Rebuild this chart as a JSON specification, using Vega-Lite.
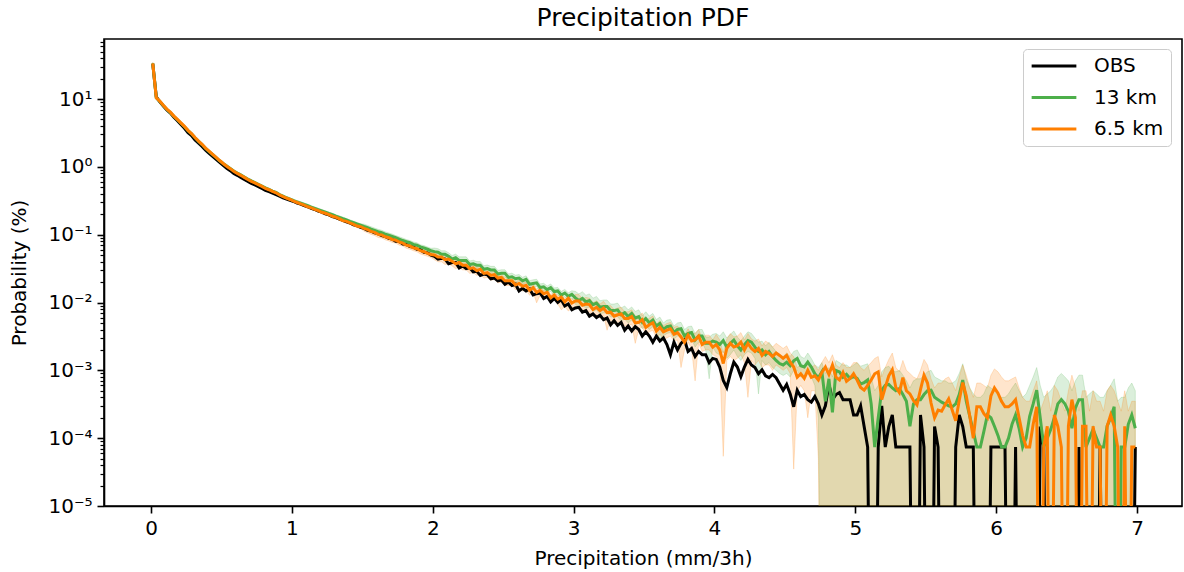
{
"$schema":"https://vega.github.io/schema/vega-lite/v6.json",
"width":1078,"height":467,
"autosize":{"type":"none"},
"padding":{"left":104,"top":39,"right":2,"bottom":66},
"background":"white",
"title":{"text":"Precipitation PDF","fontSize":25,"font":"DejaVu Sans","fontWeight":"normal","color":"black","offset":8},
"data":{"values":[
{"x":0.0125,"obs":33,"g":33.5,"gl":32.5,"gh":34.5,"o":33.5,"ol":32.5,"oh":34.5},
{"x":0.0375,"obs":10.8,"g":10.4,"gl":10.1,"gh":10.7,"o":10.4,"ol":10.1,"oh":10.7},
{"x":0.0625,"obs":9.1,"g":9.2,"gl":8.9,"gh":9.5,"o":9.3,"ol":9.0,"oh":9.6},
{"x":0.0875,"obs":7.9,"g":8.0,"gl":7.8,"gh":8.2,"o":8.1,"ol":7.9,"oh":8.3},
{"x":0.1125,"obs":6.9,"g":7.0,"gl":6.8,"gh":7.2,"o":7.1,"ol":6.9,"oh":7.3},
{"x":0.1375,"obs":6.2,"g":6.3,"gl":6.1,"gh":6.5,"o":6.4,"ol":6.2,"oh":6.6},
{"x":0.1625,"obs":5.4,"g":5.55,"gl":5.4,"gh":5.7,"o":5.6,"ol":5.45,"oh":5.75},
{"x":0.1875,"obs":4.8,"g":4.95,"gl":4.8,"gh":5.1,"o":5.0,"ol":4.85,"oh":5.15},
{"x":0.2125,"obs":4.2,"g":4.4,"gl":4.27,"gh":4.53,"o":4.45,"ol":4.32,"oh":4.58},
{"x":0.2375,"obs":3.7,"g":3.9,"gl":3.78,"gh":4.02,"o":3.95,"ol":3.83,"oh":4.07},
{"x":0.2625,"obs":3.2,"g":3.42,"gl":3.32,"gh":3.52,"o":3.45,"ol":3.35,"oh":3.55},
{"x":0.2875,"obs":2.9,"g":3.07,"gl":2.98,"gh":3.16,"o":3.1,"ol":3.0,"oh":3.2},
{"x":0.3125,"obs":2.5,"g":2.68,"gl":2.6,"gh":2.76,"o":2.7,"ol":2.62,"oh":2.78},
{"x":0.3375,"obs":2.24,"g":2.38,"gl":2.31,"gh":2.45,"o":2.4,"ol":2.33,"oh":2.47},
{"x":0.3625,"obs":2.0,"g":2.13,"gl":2.07,"gh":2.19,"o":2.15,"ol":2.09,"oh":2.21},
{"x":0.3875,"obs":1.76,"g":1.87,"gl":1.81,"gh":1.93,"o":1.89,"ol":1.83,"oh":1.95},
{"x":0.4125,"obs":1.58,"g":1.68,"gl":1.63,"gh":1.73,"o":1.70,"ol":1.65,"oh":1.75},
{"x":0.4375,"obs":1.43,"g":1.52,"gl":1.47,"gh":1.57,"o":1.53,"ol":1.48,"oh":1.58},
{"x":0.4625,"obs":1.29,"g":1.37,"gl":1.33,"gh":1.41,"o":1.38,"ol":1.34,"oh":1.42},
{"x":0.4875,"obs":1.16,"g":1.23,"gl":1.19,"gh":1.27,"o":1.24,"ol":1.2,"oh":1.28},
{"x":0.5125,"obs":1.05,"g":1.12,"gl":1.09,"gh":1.15,"o":1.12,"ol":1.09,"oh":1.15},
{"x":0.5375,"obs":0.95,"g":1.03,"gl":1.0,"gh":1.06,"o":1.02,"ol":0.99,"oh":1.05},
{"x":0.5625,"obs":0.88,"g":0.95,"gl":0.92,"gh":0.98,"o":0.94,"ol":0.91,"oh":0.97},
{"x":0.5875,"obs":0.80,"g":0.87,"gl":0.84,"gh":0.9,"o":0.86,"ol":0.83,"oh":0.89},
{"x":0.6125,"obs":0.75,"g":0.81,"gl":0.79,"gh":0.83,"o":0.80,"ol":0.78,"oh":0.82},
{"x":0.6375,"obs":0.70,"g":0.76,"gl":0.74,"gh":0.78,"o":0.75,"ol":0.73,"oh":0.77},
{"x":0.6625,"obs":0.65,"g":0.71,"gl":0.69,"gh":0.73,"o":0.70,"ol":0.68,"oh":0.72},
{"x":0.6875,"obs":0.61,"g":0.66,"gl":0.64,"gh":0.68,"o":0.65,"ol":0.63,"oh":0.67},
{"x":0.7125,"obs":0.57,"g":0.62,"gl":0.6,"gh":0.64,"o":0.61,"ol":0.59,"oh":0.63},
{"x":0.7375,"obs":0.54,"g":0.585,"gl":0.57,"gh":0.6,"o":0.58,"ol":0.565,"oh":0.595},
{"x":0.7625,"obs":0.51,"g":0.55,"gl":0.535,"gh":0.565,"o":0.545,"ol":0.53,"oh":0.56},
{"x":0.7875,"obs":0.48,"g":0.52,"gl":0.505,"gh":0.535,"o":0.515,"ol":0.5,"oh":0.53},
{"x":0.8125,"obs":0.45,"g":0.49,"gl":0.475,"gh":0.505,"o":0.48,"ol":0.465,"oh":0.495},
{"x":0.8375,"obs":0.43,"g":0.465,"gl":0.45,"gh":0.48,"o":0.46,"ol":0.445,"oh":0.475},
{"x":0.8625,"obs":0.41,"g":0.44,"gl":0.427,"gh":0.453,"o":0.435,"ol":0.422,"oh":0.448},
{"x":0.8875,"obs":0.39,"g":0.42,"gl":0.407,"gh":0.433,"o":0.415,"ol":0.402,"oh":0.428},
{"x":0.9125,"obs":0.37,"g":0.39,"gl":0.378,"gh":0.402,"o":0.385,"ol":0.373,"oh":0.397},
{"x":0.9375,"obs":0.35,"g":0.37,"gl":0.359,"gh":0.381,"o":0.365,"ol":0.354,"oh":0.376},
{"x":0.9625,"obs":0.335,"g":0.35,"gl":0.34,"gh":0.36,"o":0.345,"ol":0.335,"oh":0.355},
{"x":0.9875,"obs":0.32,"g":0.335,"gl":0.325,"gh":0.345,"o":0.33,"ol":0.32,"oh":0.34},
{"x":1.0125,"obs":0.309,"g":0.318,"gl":0.302,"gh":0.334,"o":0.312,"ol":0.296,"oh":0.328},
{"x":1.0375,"obs":0.293,"g":0.303,"gl":0.288,"gh":0.318,"o":0.298,"ol":0.283,"oh":0.313},
{"x":1.0625,"obs":0.283,"g":0.292,"gl":0.277,"gh":0.307,"o":0.284,"ol":0.270,"oh":0.298},
{"x":1.0875,"obs":0.268,"g":0.279,"gl":0.265,"gh":0.293,"o":0.272,"ol":0.258,"oh":0.286},
{"x":1.1125,"obs":0.258,"g":0.268,"gl":0.255,"gh":0.281,"o":0.258,"ol":0.245,"oh":0.271},
{"x":1.1375,"obs":0.244,"g":0.255,"gl":0.242,"gh":0.268,"o":0.249,"ol":0.237,"oh":0.261},
{"x":1.1625,"obs":0.235,"g":0.244,"gl":0.232,"gh":0.256,"o":0.236,"ol":0.224,"oh":0.248},
{"x":1.1875,"obs":0.222,"g":0.233,"gl":0.221,"gh":0.245,"o":0.226,"ol":0.215,"oh":0.237},
{"x":1.2125,"obs":0.215,"g":0.224,"gl":0.213,"gh":0.235,"o":0.214,"ol":0.203,"oh":0.225},
{"x":1.2375,"obs":0.203,"g":0.214,"gl":0.203,"gh":0.225,"o":0.207,"ol":0.197,"oh":0.217},
{"x":1.2625,"obs":0.196,"g":0.205,"gl":0.195,"gh":0.215,"o":0.197,"ol":0.187,"oh":0.207},
{"x":1.2875,"obs":0.185,"g":0.197,"gl":0.187,"gh":0.207,"o":0.187,"ol":0.178,"oh":0.196},
{"x":1.3125,"obs":0.179,"g":0.188,"gl":0.179,"gh":0.197,"o":0.181,"ol":0.172,"oh":0.190},
{"x":1.3375,"obs":0.169,"g":0.180,"gl":0.171,"gh":0.189,"o":0.171,"ol":0.162,"oh":0.180},
{"x":1.3625,"obs":0.163,"g":0.172,"gl":0.163,"gh":0.181,"o":0.161,"ol":0.153,"oh":0.169},
{"x":1.3875,"obs":0.154,"g":0.165,"gl":0.157,"gh":0.173,"o":0.157,"ol":0.149,"oh":0.165},
{"x":1.4125,"obs":0.149,"g":0.157,"gl":0.149,"gh":0.165,"o":0.149,"ol":0.142,"oh":0.156},
{"x":1.4375,"obs":0.140,"g":0.151,"gl":0.143,"gh":0.159,"o":0.142,"ol":0.135,"oh":0.149},
{"x":1.4625,"obs":0.136,"g":0.144,"gl":0.137,"gh":0.151,"o":0.134,"ol":0.127,"oh":0.141},
{"x":1.4875,"obs":0.128,"g":0.138,"gl":0.131,"gh":0.145,"o":0.131,"ol":0.124,"oh":0.138},
{"x":1.5125,"obs":0.124,"g":0.132,"gl":0.121,"gh":0.143,"o":0.124,"ol":0.112,"oh":0.134},
{"x":1.5375,"obs":0.116,"g":0.127,"gl":0.117,"gh":0.137,"o":0.119,"ol":0.107,"oh":0.129},
{"x":1.5625,"obs":0.113,"g":0.121,"gl":0.111,"gh":0.131,"o":0.112,"ol":0.101,"oh":0.121},
{"x":1.5875,"obs":0.106,"g":0.116,"gl":0.107,"gh":0.125,"o":0.108,"ol":0.097,"oh":0.117},
{"x":1.6125,"obs":0.103,"g":0.111,"gl":0.102,"gh":0.120,"o":0.101,"ol":0.091,"oh":0.109},
{"x":1.6375,"obs":0.097,"g":0.107,"gl":0.098,"gh":0.116,"o":0.099,"ol":0.089,"oh":0.107},
{"x":1.6625,"obs":0.094,"g":0.102,"gl":0.094,"gh":0.110,"o":0.093,"ol":0.084,"oh":0.100},
{"x":1.6875,"obs":0.088,"g":0.098,"gl":0.090,"gh":0.106,"o":0.090,"ol":0.081,"oh":0.097},
{"x":1.7125,"obs":0.086,"g":0.094,"gl":0.086,"gh":0.102,"o":0.085,"ol":0.077,"oh":0.092},
{"x":1.7375,"obs":0.080,"g":0.090,"gl":0.083,"gh":0.097,"o":0.083,"ol":0.075,"oh":0.090},
{"x":1.7625,"obs":0.079,"g":0.086,"gl":0.079,"gh":0.093,"o":0.078,"ol":0.070,"oh":0.084},
{"x":1.7875,"obs":0.073,"g":0.082,"gl":0.075,"gh":0.089,"o":0.075,"ol":0.068,"oh":0.081},
{"x":1.8125,"obs":0.072,"g":0.079,"gl":0.073,"gh":0.085,"o":0.070,"ol":0.063,"oh":0.076},
{"x":1.8375,"obs":0.067,"g":0.076,"gl":0.070,"gh":0.082,"o":0.068,"ol":0.061,"oh":0.073},
{"x":1.8625,"obs":0.066,"g":0.072,"gl":0.066,"gh":0.078,"o":0.064,"ol":0.058,"oh":0.069},
{"x":1.8875,"obs":0.061,"g":0.070,"gl":0.064,"gh":0.076,"o":0.062,"ol":0.056,"oh":0.067},
{"x":1.9125,"obs":0.060,"g":0.066,"gl":0.061,"gh":0.071,"o":0.058,"ol":0.052,"oh":0.063},
{"x":1.9375,"obs":0.055,"g":0.064,"gl":0.059,"gh":0.069,"o":0.056,"ol":0.050,"oh":0.060},
{"x":1.9625,"obs":0.054,"g":0.061,"gl":0.056,"gh":0.066,"o":0.053,"ol":0.048,"oh":0.057},
{"x":1.9875,"obs":0.050,"g":0.058,"gl":0.053,"gh":0.063,"o":0.051,"ol":0.046,"oh":0.055},
{"x":2.0125,"obs":0.0479,"g":0.0562,"gl":0.0495,"gh":0.0635,"o":0.0501,"ol":0.0426,"oh":0.0561},
{"x":2.0375,"obs":0.0437,"g":0.0550,"gl":0.0484,"gh":0.0622,"o":0.0468,"ol":0.0398,"oh":0.0524},
{"x":2.0625,"obs":0.0447,"g":0.0513,"gl":0.0451,"gh":0.058,"o":0.0468,"ol":0.0398,"oh":0.0524},
{"x":2.0875,"obs":0.0437,"g":0.0513,"gl":0.0451,"gh":0.058,"o":0.0427,"ol":0.0363,"oh":0.0478},
{"x":2.1125,"obs":0.0372,"g":0.0479,"gl":0.0422,"gh":0.0541,"o":0.0437,"ol":0.0371,"oh":0.0489},
{"x":2.1375,"obs":0.0389,"g":0.0437,"gl":0.0385,"gh":0.0494,"o":0.0407,"ol":0.0346,"oh":0.0456},
{"x":2.1625,"obs":0.0389,"g":0.0457,"gl":0.0402,"gh":0.0516,"o":0.0372,"ol":0.0316,"oh":0.0417},
{"x":2.1875,"obs":0.0324,"g":0.0417,"gl":0.0367,"gh":0.0471,"o":0.0389,"ol":0.0331,"oh":0.0436},
{"x":2.2125,"obs":0.0347,"g":0.0417,"gl":0.0367,"gh":0.0471,"o":0.0355,"ol":0.0302,"oh":0.0398},
{"x":2.2375,"obs":0.0316,"g":0.0417,"gl":0.0367,"gh":0.0471,"o":0.0355,"ol":0.0302,"oh":0.0398},
{"x":2.2625,"obs":0.0324,"g":0.0363,"gl":0.0319,"gh":0.041,"o":0.0316,"ol":0.0269,"oh":0.0354},
{"x":2.2875,"obs":0.0282,"g":0.0372,"gl":0.0327,"gh":0.042,"o":0.0324,"ol":0.0275,"oh":0.0363},
{"x":2.3125,"obs":0.0288,"g":0.0355,"gl":0.0312,"gh":0.0401,"o":0.0295,"ol":0.0251,"oh":0.033},
{"x":2.3375,"obs":0.0251,"g":0.0355,"gl":0.0312,"gh":0.0401,"o":0.0309,"ol":0.0263,"oh":0.0346},
{"x":2.3625,"obs":0.0263,"g":0.0309,"gl":0.0272,"gh":0.0349,"o":0.0269,"ol":0.0229,"oh":0.0301},
{"x":2.3875,"obs":0.0257,"g":0.0316,"gl":0.0278,"gh":0.0357,"o":0.0275,"ol":0.0234,"oh":0.0308},
{"x":2.4125,"obs":0.0224,"g":0.0302,"gl":0.0266,"gh":0.0341,"o":0.0251,"ol":0.0213,"oh":0.0281},
{"x":2.4375,"obs":0.0229,"g":0.0302,"gl":0.0266,"gh":0.0341,"o":0.0257,"ol":0.0218,"oh":0.0288},
{"x":2.4625,"obs":0.0209,"g":0.0263,"gl":0.0231,"gh":0.0297,"o":0.0229,"ol":0.0195,"oh":0.0256},
{"x":2.4875,"obs":0.0214,"g":0.0269,"gl":0.0237,"gh":0.0304,"o":0.0234,"ol":0.0199,"oh":0.0262},
{"x":2.5125,"obs":0.0186,"g":0.0269,"gl":0.0237,"gh":0.0304,"o":0.0209,"ol":0.0178,"oh":0.0234},
{"x":2.5375,"obs":0.0200,"g":0.0234,"gl":0.0206,"gh":0.0264,"o":0.0209,"ol":0.0178,"oh":0.0234},
{"x":2.5625,"obs":0.0178,"g":0.0240,"gl":0.0211,"gh":0.0271,"o":0.0209,"ol":0.0178,"oh":0.0234},
{"x":2.5875,"obs":0.0186,"g":0.0224,"gl":0.0197,"gh":0.0253,"o":0.0182,"ol":0.0155,"oh":0.0204},
{"x":2.6125,"obs":0.0148,"g":0.0229,"gl":0.0202,"gh":0.0259,"o":0.0191,"ol":0.0162,"oh":0.0214},
{"x":2.6375,"obs":0.0162,"g":0.0209,"gl":0.0184,"gh":0.0236,"o":0.0174,"ol":0.0148,"oh":0.0195},
{"x":2.6625,"obs":0.0148,"g":0.0219,"gl":0.0193,"gh":0.0247,"o":0.0178,"ol":0.0151,"oh":0.0199},
{"x":2.6875,"obs":0.0158,"g":0.0186,"gl":0.0164,"gh":0.021,"o":0.0151,"ol":0.0128,"oh":0.0169},
{"x":2.7125,"obs":0.0129,"g":0.0191,"gl":0.0168,"gh":0.0216,"o":0.0166,"ol":0.0141,"oh":0.0186},
{"x":2.7375,"obs":0.0135,"g":0.0195,"gl":0.0172,"gh":0.022,"o":0.0141,"ol":0.0099,"oh":0.0158},
{"x":2.7625,"obs":0.0138,"g":0.0166,"gl":0.0146,"gh":0.0188,"o":0.0151,"ol":0.0128,"oh":0.0169},
{"x":2.7875,"obs":0.0115,"g":0.0170,"gl":0.015,"gh":0.0192,"o":0.0135,"ol":0.0115,"oh":0.0151},
{"x":2.8125,"obs":0.0123,"g":0.0155,"gl":0.0136,"gh":0.0175,"o":0.0141,"ol":0.012,"oh":0.0158},
{"x":2.8375,"obs":0.0102,"g":0.0166,"gl":0.0146,"gh":0.0188,"o":0.0117,"ol":0.0099,"oh":0.0131},
{"x":2.8625,"obs":0.0115,"g":0.0145,"gl":0.0128,"gh":0.0164,"o":0.0129,"ol":0.011,"oh":0.0144},
{"x":2.8875,"obs":0.0100,"g":0.0148,"gl":0.013,"gh":0.0167,"o":0.0112,"ol":0.0095,"oh":0.0125},
{"x":2.9125,"obs":0.0110,"g":0.0129,"gl":0.0114,"gh":0.0146,"o":0.0120,"ol":0.0078,"oh":0.0134},
{"x":2.9375,"obs":0.0089,"g":0.0138,"gl":0.0121,"gh":0.0156,"o":0.0102,"ol":0.0087,"oh":0.0114},
{"x":2.9625,"obs":0.0095,"g":0.0123,"gl":0.0108,"gh":0.0139,"o":0.0115,"ol":0.0075,"oh":0.0129},
{"x":2.9875,"obs":0.0078,"g":0.0132,"gl":0.0116,"gh":0.0149,"o":0.0098,"ol":0.0083,"oh":0.011},
{"x":3.0125,"obs":0.0083,"g":0.0117,"gl":0.0094,"gh":0.0146,"o":0.0105,"ol":0.0082,"oh":0.0131},
{"x":3.0375,"obs":0.0085,"g":0.0107,"gl":0.0086,"gh":0.0134,"o":0.0105,"ol":0.0082,"oh":0.0131},
{"x":3.0625,"obs":0.0072,"g":0.0115,"gl":0.0092,"gh":0.0144,"o":0.0091,"ol":0.0071,"oh":0.0114},
{"x":3.0875,"obs":0.0076,"g":0.0102,"gl":0.0082,"gh":0.0128,"o":0.0095,"ol":0.0074,"oh":0.0119},
{"x":3.1125,"obs":0.0063,"g":0.0107,"gl":0.0086,"gh":0.0134,"o":0.0093,"ol":0.0073,"oh":0.0116},
{"x":3.1375,"obs":0.0068,"g":0.0093,"gl":0.0074,"gh":0.0116,"o":0.0079,"ol":0.0062,"oh":0.0099},
{"x":3.1625,"obs":0.0060,"g":0.0098,"gl":0.0078,"gh":0.0123,"o":0.0085,"ol":0.0066,"oh":0.0106},
{"x":3.1875,"obs":0.0065,"g":0.0085,"gl":0.0068,"gh":0.0106,"o":0.0076,"ol":0.0059,"oh":0.0095},
{"x":3.2125,"obs":0.0056,"g":0.0087,"gl":0.007,"gh":0.0109,"o":0.0083,"ol":0.0065,"oh":0.0104},
{"x":3.2375,"obs":0.0059,"g":0.0087,"gl":0.007,"gh":0.0109,"o":0.0071,"ol":0.0039,"oh":0.0089},
{"x":3.2625,"obs":0.0047,"g":0.0076,"gl":0.0061,"gh":0.0095,"o":0.0072,"ol":0.0056,"oh":0.009},
{"x":3.2875,"obs":0.0054,"g":0.0076,"gl":0.0061,"gh":0.0095,"o":0.0063,"ol":0.0049,"oh":0.0079},
{"x":3.3125,"obs":0.0046,"g":0.0078,"gl":0.0062,"gh":0.0098,"o":0.0066,"ol":0.0051,"oh":0.0083},
{"x":3.3375,"obs":0.0051,"g":0.0066,"gl":0.0053,"gh":0.0083,"o":0.0068,"ol":0.0053,"oh":0.0085},
{"x":3.3625,"obs":0.0039,"g":0.0071,"gl":0.0057,"gh":0.0089,"o":0.0058,"ol":0.0045,"oh":0.0073},
{"x":3.3875,"obs":0.0045,"g":0.0062,"gl":0.005,"gh":0.0078,"o":0.0058,"ol":0.0045,"oh":0.0073},
{"x":3.4125,"obs":0.0038,"g":0.0069,"gl":0.0055,"gh":0.0086,"o":0.0062,"ol":0.0048,"oh":0.0078},
{"x":3.4375,"obs":0.0044,"g":0.0059,"gl":0.0047,"gh":0.0074,"o":0.0050,"ol":0.0025,"oh":0.0063},
{"x":3.4625,"obs":0.0040,"g":0.0062,"gl":0.005,"gh":0.0078,"o":0.0051,"ol":0.004,"oh":0.0064},
{"x":3.4875,"obs":0.0032,"g":0.0051,"gl":0.0041,"gh":0.0064,"o":0.0056,"ol":0.0044,"oh":0.007},
{"x":3.5125,"obs":0.0037,"g":0.0058,"gl":0.0046,"gh":0.0073,"o":0.0043,"ol":0.0034,"oh":0.0054},
{"x":3.5375,"obs":0.0032,"g":0.0050,"gl":0.004,"gh":0.0063,"o":0.0047,"ol":0.0037,"oh":0.0059},
{"x":3.5625,"obs":0.0026,"g":0.0055,"gl":0.0044,"gh":0.0069,"o":0.0050,"ol":0.0039,"oh":0.0063},
{"x":3.5875,"obs":0.0032,"g":0.0045,"gl":0.0036,"gh":0.0056,"o":0.0038,"ol":0.003,"oh":0.0048},
{"x":3.6125,"obs":0.0027,"g":0.0049,"gl":0.0029,"gh":0.0061,"o":0.0043,"ol":0.0034,"oh":0.0054},
{"x":3.6375,"obs":0.0030,"g":0.0040,"gl":0.0032,"gh":0.005,"o":0.0037,"ol":0.0029,"oh":0.0046},
{"x":3.6625,"obs":0.0024,"g":0.0044,"gl":0.0035,"gh":0.0055,"o":0.0039,"ol":0.003,"oh":0.0049},
{"x":3.6875,"obs":0.0017,"g":0.0045,"gl":0.0036,"gh":0.0056,"o":0.0041,"ol":0.0032,"oh":0.0051},
{"x":3.7125,"obs":0.0026,"g":0.0036,"gl":0.0029,"gh":0.0045,"o":0.0034,"ol":0.0027,"oh":0.0043},
{"x":3.7375,"obs":0.0020,"g":0.0040,"gl":0.0032,"gh":0.005,"o":0.0036,"ol":0.0028,"oh":0.0045},
{"x":3.7625,"obs":0.0025,"g":0.0041,"gl":0.0033,"gh":0.0051,"o":0.0031,"ol":0.0011,"oh":0.0039},
{"x":3.7875,"obs":0.0028,"g":0.0032,"gl":0.0026,"gh":0.004,"o":0.0026,"ol":0.002,"oh":0.0033},
{"x":3.8125,"obs":0.0019,"g":0.0035,"gl":0.0028,"gh":0.0044,"o":0.0033,"ol":0.0026,"oh":0.0041},
{"x":3.8375,"obs":0.0021,"g":0.0036,"gl":0.0029,"gh":0.0045,"o":0.0027,"ol":0.0021,"oh":0.0034},
{"x":3.8625,"obs":0.0016,"g":0.0028,"gl":0.0022,"gh":0.0035,"o":0.0028,"ol":0.0007,"oh":0.0035},
{"x":3.8875,"obs":0.0019,"g":0.0032,"gl":0.0026,"gh":0.004,"o":0.0032,"ol":0.0025,"oh":0.004},
{"x":3.9125,"obs":0.0017,"g":0.0032,"gl":0.0026,"gh":0.004,"o":0.0024,"ol":0.0019,"oh":0.003},
{"x":3.9375,"obs":0.0017,"g":0.0025,"gl":0.002,"gh":0.0031,"o":0.0026,"ol":0.002,"oh":0.0033},
{"x":3.9625,"obs":0.0013,"g":0.0025,"gl":0.00075,"gh":0.0031,"o":0.0026,"ol":0.002,"oh":0.0033},
{"x":3.9875,"obs":0.0015,"g":0.0027,"gl":0.0022,"gh":0.0034,"o":0.0022,"ol":0.0017,"oh":0.0028},
{"x":4.0125,"obs":0.00145,"g":0.0026,"gl":0.0018,"gh":0.0035,"o":0.0024,"ol":0.0016,"oh":0.0034},
{"x":4.0375,"obs":0.00112,"g":0.0024,"gl":0.0017,"gh":0.0032,"o":0.0020,"ol":0.0013,"oh":0.0028},
{"x":4.0625,"obs":0.00071,"g":0.00275,"gl":0.0019,"gh":0.0037,"o":0.00126,"ol":0.000054,"oh":0.0018},
{"x":4.0875,"obs":0.00056,"g":0.0022,"gl":0.0015,"gh":0.003,"o":0.0021,"ol":0.0014,"oh":0.0029},
{"x":4.1125,"obs":0.00089,"g":0.0025,"gl":0.0017,"gh":0.0034,"o":0.0025,"ol":0.0016,"oh":0.0035},
{"x":4.1375,"obs":0.00132,"g":0.0028,"gl":0.002,"gh":0.0038,"o":0.0022,"ol":0.0014,"oh":0.0031},
{"x":4.1625,"obs":0.00112,"g":0.0023,"gl":0.0016,"gh":0.0031,"o":0.0023,"ol":0.0015,"oh":0.0032},
{"x":4.1875,"obs":0.00081,"g":0.0020,"gl":0.0014,"gh":0.0027,"o":0.0026,"ol":0.0017,"oh":0.0036},
{"x":4.2125,"obs":0.00112,"g":0.0024,"gl":0.0017,"gh":0.0032,"o":0.0020,"ol":0.0013,"oh":0.0028},
{"x":4.2375,"obs":0.00145,"g":0.00275,"gl":0.0019,"gh":0.0037,"o":0.0025,"ol":0.0004,"oh":0.0035},
{"x":4.2625,"obs":0.0012,"g":0.0026,"gl":0.0018,"gh":0.0035,"o":0.0021,"ol":0.0014,"oh":0.0029},
{"x":4.2875,"obs":0.0011,"g":0.0022,"gl":0.0015,"gh":0.003,"o":0.0019,"ol":0.0012,"oh":0.0027},
{"x":4.3125,"obs":0.00089,"g":0.0019,"gl":0.00045,"gh":0.0026,"o":0.0021,"ol":0.0014,"oh":0.0029},
{"x":4.3375,"obs":0.00102,"g":0.0020,"gl":0.0014,"gh":0.0027,"o":0.00166,"ol":0.0011,"oh":0.0023},
{"x":4.3625,"obs":0.00083,"g":0.0017,"gl":0.0012,"gh":0.0023,"o":0.0019,"ol":0.0012,"oh":0.0027},
{"x":4.3875,"obs":0.00078,"g":0.0019,"gl":0.0013,"gh":0.0026,"o":0.00178,"ol":0.0012,"oh":0.0025},
{"x":4.4125,"obs":0.00087,"g":0.0016,"gl":0.0011,"gh":0.0022,"o":0.0016,"ol":0.001,"oh":0.0022},
{"x":4.4375,"obs":0.00078,"g":0.0014,"gl":0.001,"gh":0.0019,"o":0.0018,"ol":0.0012,"oh":0.0025},
{"x":4.4625,"obs":0.00063,"g":0.00126,"gl":0.0009,"gh":0.0017,"o":0.00166,"ol":0.0011,"oh":0.0023},
{"x":4.4875,"obs":0.00051,"g":0.0012,"gl":0.00084,"gh":0.0016,"o":0.0015,"ol":0.001,"oh":0.0021},
{"x":4.5125,"obs":0.00062,"g":0.00132,"gl":0.0009,"gh":0.0018,"o":0.00166,"ol":0.0011,"oh":0.0023},
{"x":4.5375,"obs":0.00045,"g":0.00117,"gl":0.0008,"gh":0.0016,"o":0.00132,"ol":0.0009,"oh":0.0018},
{"x":4.5625,"obs":0.00029,"g":0.00138,"gl":0.001,"gh":0.0019,"o":0.00112,"ol":0.000035,"oh":0.0016},
{"x":4.5875,"obs":0.00051,"g":0.0015,"gl":0.001,"gh":0.002,"o":0.00079,"ol":0.0005,"oh":0.0011},
{"x":4.6125,"obs":0.00041,"g":0.00117,"gl":0.0008,"gh":0.0016,"o":0.00089,"ol":0.0006,"oh":0.0012},
{"x":4.6375,"obs":0.00044,"g":0.00112,"gl":0.0008,"gh":0.0015,"o":0.00076,"ol":0.0005,"oh":0.0011},
{"x":4.6625,"obs":0.00037,"g":0.00132,"gl":0.0009,"gh":0.0018,"o":0.001,"ol":0.0002,"oh":0.0014},
{"x":4.6875,"obs":0.00034,"g":0.00112,"gl":0.0008,"gh":0.0015,"o":0.00079,"ol":0.0005,"oh":0.0011},
{"x":4.7125,"obs":0.00041,"g":0.00089,"gl":0.0006,"gh":0.0012,"o":0.00083,"ol":0.0005,"oh":0.0012},
{"x":4.7375,"obs":0.00032,"g":0.00078,"gl":0.0002,"gh":0.0011,"o":0.00072,"ol":0.00005,"oh":0.001},
{"x":4.7625,"obs":0.00022,"g":0.00095,"gl":1e-9,"gh":0.0013,"o":0.00093,"ol":1e-9,"oh":0.0013},
{"x":4.7875,"obs":0.0003,"g":0.00035,"gl":1e-9,"gh":0.0009,"o":0.00112,"ol":1e-9,"oh":0.0016},
{"x":4.8125,"obs":0.00062,"g":0.00075,"gl":1e-9,"gh":0.0011,"o":0.00087,"ol":1e-9,"oh":0.0013},
{"x":4.8375,"obs":0.00037,"g":0.00024,"gl":1e-9,"gh":0.0008,"o":0.0012,"ol":1e-9,"oh":0.0017},
{"x":4.8625,"obs":0.00044,"g":0.001,"gl":1e-9,"gh":0.0014,"o":0.00079,"ol":1e-9,"oh":0.0012},
{"x":4.8875,"obs":0.00047,"g":0.00095,"gl":1e-9,"gh":0.0013,"o":0.00072,"ol":1e-9,"oh":0.0011},
{"x":4.9125,"obs":0.00037,"g":0.00079,"gl":1e-9,"gh":0.0012,"o":0.00093,"ol":1e-9,"oh":0.0013},
{"x":4.9375,"obs":0.00037,"g":0.00087,"gl":1e-9,"gh":0.0012,"o":0.00069,"ol":1e-9,"oh":0.0011},
{"x":4.9625,"obs":0.00037,"g":0.00076,"gl":1e-9,"gh":0.0011,"o":0.00076,"ol":1e-9,"oh":0.0011},
{"x":4.9875,"obs":0.00022,"g":0.00081,"gl":1e-9,"gh":0.0012,"o":0.00089,"ol":1e-9,"oh":0.0013},
{"x":5.0125,"obs":2.2e-4,"g":7.6e-4,"gl":1e-9,"gh":1.3e-3,"o":7.2e-4,"ol":1e-9,"oh":1.3e-3},
{"x":5.0375,"obs":3.0e-4,"g":6.3e-4,"gl":1e-9,"gh":1.15e-3,"o":5.6e-4,"ol":1e-9,"oh":1.1e-3},
{"x":5.0625,"obs":1.48e-4,"g":6.6e-4,"gl":1e-9,"gh":1.2e-3,"o":5.1e-4,"ol":1e-9,"oh":1.0e-3},
{"x":5.0875,"obs":7.4e-5,"g":7.2e-4,"gl":1e-9,"gh":1.25e-3,"o":6.0e-4,"ol":1e-9,"oh":1.15e-3},
{"x":5.1125,"obs":1e-9,"g":3.2e-4,"gl":1e-9,"gh":8e-4,"o":7.2e-4,"ol":1e-9,"oh":1.3e-3},
{"x":5.1375,"obs":1e-9,"g":7.4e-5,"gl":1e-9,"gh":5e-4,"o":8.9e-4,"ol":1e-9,"oh":1.5e-3},
{"x":5.1625,"obs":7.4e-5,"g":2.0e-4,"gl":1e-9,"gh":6e-4,"o":9.5e-4,"ol":1e-9,"oh":1.6e-3},
{"x":5.1875,"obs":3.0e-4,"g":5.1e-4,"gl":1e-9,"gh":9.5e-4,"o":3.7e-4,"ol":1e-9,"oh":8e-4},
{"x":5.2125,"obs":7.4e-5,"g":6.0e-4,"gl":1e-9,"gh":1.1e-3,"o":5.6e-4,"ol":1e-9,"oh":1.1e-3},
{"x":5.2375,"obs":1.48e-4,"g":6.2e-4,"gl":1e-9,"gh":1.15e-3,"o":8.3e-4,"ol":1e-9,"oh":1.45e-3},
{"x":5.2625,"obs":2.2e-4,"g":5.5e-4,"gl":1e-9,"gh":1.0e-3,"o":1.02e-3,"ol":1e-9,"oh":1.8e-3},
{"x":5.2875,"obs":7.4e-5,"g":5.0e-4,"gl":1e-9,"gh":9.5e-4,"o":5.6e-4,"ol":1e-9,"oh":1.1e-3},
{"x":5.3125,"obs":7.4e-5,"g":5.4e-4,"gl":1e-9,"gh":1.0e-3,"o":4.7e-4,"ol":1e-9,"oh":9.5e-4},
{"x":5.3375,"obs":7.4e-5,"g":4.4e-4,"gl":1e-9,"gh":8.5e-4,"o":7.8e-4,"ol":1e-9,"oh":1.4e-3},
{"x":5.3625,"obs":7.4e-5,"g":3.5e-4,"gl":1e-9,"gh":7e-4,"o":5.0e-4,"ol":1e-9,"oh":1.0e-3},
{"x":5.3875,"obs":7.4e-5,"g":1.5e-4,"gl":1e-9,"gh":5.5e-4,"o":4.5e-4,"ol":1e-9,"oh":9e-4},
{"x":5.4125,"obs":1e-9,"g":3.2e-4,"gl":1e-9,"gh":7e-4,"o":3.6e-4,"ol":1e-9,"oh":8e-4},
{"x":5.4375,"obs":1e-9,"g":3.7e-4,"gl":1e-9,"gh":7.5e-4,"o":3.1e-4,"ol":1e-9,"oh":7.5e-4},
{"x":5.4625,"obs":2.2e-4,"g":3.7e-4,"gl":1e-9,"gh":7.5e-4,"o":5.2e-4,"ol":1e-9,"oh":1.0e-3},
{"x":5.4875,"obs":7.4e-5,"g":4.4e-4,"gl":1e-9,"gh":8.5e-4,"o":8.5e-4,"ol":1e-9,"oh":1.45e-3},
{"x":5.5125,"obs":1e-9,"g":5.0e-4,"gl":1e-9,"gh":9.5e-4,"o":6.5e-4,"ol":1e-9,"oh":1.2e-3},
{"x":5.5375,"obs":1e-9,"g":5.1e-4,"gl":1e-9,"gh":1.0e-3,"o":3.3e-4,"ol":1e-9,"oh":7.5e-4},
{"x":5.5625,"obs":1.48e-4,"g":4.0e-4,"gl":1e-9,"gh":8e-4,"o":2.0e-4,"ol":1e-9,"oh":5.5e-4},
{"x":5.5875,"obs":7.4e-5,"g":3.7e-4,"gl":1e-9,"gh":7.5e-4,"o":2.6e-4,"ol":1e-9,"oh":6.5e-4},
{"x":5.6125,"obs":1e-9,"g":3.4e-4,"gl":1e-9,"gh":7e-4,"o":2.5e-4,"ol":1e-9,"oh":6.5e-4},
{"x":5.6375,"obs":1e-9,"g":3.2e-4,"gl":1e-9,"gh":7e-4,"o":3.1e-4,"ol":1e-9,"oh":7.5e-4},
{"x":5.6625,"obs":1e-9,"g":3.0e-4,"gl":1e-9,"gh":6.5e-4,"o":3.8e-4,"ol":1e-9,"oh":8e-4},
{"x":5.6875,"obs":1e-9,"g":2.9e-4,"gl":1e-9,"gh":6.5e-4,"o":2.6e-4,"ol":1e-9,"oh":6.5e-4},
{"x":5.7125,"obs":7.4e-5,"g":3.2e-4,"gl":1e-9,"gh":7e-4,"o":1.8e-4,"ol":1e-9,"oh":5e-4},
{"x":5.7375,"obs":2.2e-4,"g":4.4e-4,"gl":1e-9,"gh":9e-4,"o":3.6e-4,"ol":1e-9,"oh":8e-4},
{"x":5.7625,"obs":1.48e-4,"g":7.2e-4,"gl":1e-9,"gh":1.25e-3,"o":6.6e-4,"ol":1e-9,"oh":1.2e-3},
{"x":5.7875,"obs":7.4e-5,"g":3.5e-4,"gl":1e-9,"gh":7.5e-4,"o":4.2e-4,"ol":1e-9,"oh":8.5e-4},
{"x":5.8125,"obs":7.4e-5,"g":2.1e-4,"gl":1e-9,"gh":5.5e-4,"o":2.1e-4,"ol":1e-9,"oh":5.5e-4},
{"x":5.8375,"obs":7.4e-5,"g":1.26e-4,"gl":1e-9,"gh":4.5e-4,"o":1.0e-4,"ol":1e-9,"oh":4e-4},
{"x":5.8625,"obs":1e-9,"g":7.4e-5,"gl":1e-9,"gh":4e-4,"o":2.9e-4,"ol":1e-9,"oh":6.5e-4},
{"x":5.8875,"obs":1e-9,"g":7.4e-5,"gl":1e-9,"gh":4e-4,"o":2.9e-4,"ol":1e-9,"oh":6.5e-4},
{"x":5.9125,"obs":1e-9,"g":1.26e-4,"gl":1e-9,"gh":4.5e-4,"o":2.3e-4,"ol":1e-9,"oh":6e-4},
{"x":5.9375,"obs":1e-9,"g":2.2e-4,"gl":1e-9,"gh":6e-4,"o":2.0e-4,"ol":1e-9,"oh":5.5e-4},
{"x":5.9625,"obs":7.4e-5,"g":2.0e-4,"gl":1e-9,"gh":5.5e-4,"o":4.2e-4,"ol":1e-9,"oh":8.5e-4},
{"x":5.9875,"obs":7.4e-5,"g":1.5e-4,"gl":1e-9,"gh":5e-4,"o":5.5e-4,"ol":1e-9,"oh":1.05e-3},
{"x":6.0125,"obs":7.4e-5,"g":1.1e-4,"gl":1e-9,"gh":4.5e-4,"o":4.6e-4,"ol":1e-9,"oh":9.5e-4},
{"x":6.0375,"obs":7.4e-5,"g":7.4e-5,"gl":1e-9,"gh":4e-4,"o":3.5e-4,"ol":1e-9,"oh":8e-4},
{"x":6.0625,"obs":7.4e-5,"g":7.4e-5,"gl":1e-9,"gh":4e-4,"o":2.9e-4,"ol":1e-9,"oh":7e-4},
{"x":6.0875,"obs":1e-9,"g":1.0e-4,"gl":1e-9,"gh":4.5e-4,"o":2.9e-4,"ol":1e-9,"oh":7e-4},
{"x":6.1125,"obs":1e-9,"g":1.6e-4,"gl":1e-9,"gh":5.5e-4,"o":3.2e-4,"ol":1e-9,"oh":7.5e-4},
{"x":6.1375,"obs":7.4e-5,"g":2.2e-4,"gl":1e-9,"gh":6.5e-4,"o":3.7e-4,"ol":1e-9,"oh":8e-4},
{"x":6.1625,"obs":1e-9,"g":1.4e-4,"gl":1e-9,"gh":5e-4,"o":2.0e-4,"ol":1e-9,"oh":5.5e-4},
{"x":6.1875,"obs":1e-9,"g":7.4e-5,"gl":1e-9,"gh":4e-4,"o":1.1e-4,"ol":1e-9,"oh":4e-4},
{"x":6.2125,"obs":1e-9,"g":1.0e-4,"gl":1e-9,"gh":4.5e-4,"o":7.4e-5,"ol":1e-9,"oh":3.5e-4},
{"x":6.2375,"obs":1e-9,"g":2.1e-4,"gl":1e-9,"gh":6e-4,"o":7.4e-5,"ol":1e-9,"oh":3.5e-4},
{"x":6.2625,"obs":1e-9,"g":3.2e-4,"gl":1e-9,"gh":8e-4,"o":1.6e-4,"ol":1e-9,"oh":5e-4},
{"x":6.2875,"obs":1e-9,"g":5.1e-4,"gl":1e-9,"gh":1.1e-3,"o":2.9e-4,"ol":1e-9,"oh":7e-4},
{"x":6.3125,"obs":1.48e-4,"g":2.0e-4,"gl":1e-9,"gh":6e-4,"o":1e-9,"ol":1e-9,"oh":2.5e-4},
{"x":6.3375,"obs":7.4e-5,"g":7.4e-5,"gl":1e-9,"gh":4e-4,"o":7.4e-5,"ol":1e-9,"oh":3.5e-4},
{"x":6.3625,"obs":1e-9,"g":1.0e-4,"gl":1e-9,"gh":4.5e-4,"o":1.5e-4,"ol":1e-9,"oh":5e-4},
{"x":6.3875,"obs":1e-9,"g":1.35e-4,"gl":1e-9,"gh":5e-4,"o":1e-9,"ol":1e-9,"oh":2.5e-4},
{"x":6.4125,"obs":1e-9,"g":2.0e-4,"gl":1e-9,"gh":6e-4,"o":2.2e-4,"ol":1e-9,"oh":6e-4},
{"x":6.4375,"obs":1e-9,"g":3.2e-4,"gl":1e-9,"gh":8e-4,"o":1.5e-4,"ol":1e-9,"oh":5e-4},
{"x":6.4625,"obs":1e-9,"g":3.7e-4,"gl":1e-9,"gh":9e-4,"o":7.4e-5,"ol":1e-9,"oh":3.5e-4},
{"x":6.4875,"obs":1e-9,"g":3.2e-4,"gl":1e-9,"gh":8e-4,"o":1e-9,"ol":1e-9,"oh":2.5e-4},
{"x":6.5125,"obs":1e-9,"g":2.5e-4,"gl":1e-9,"gh":7e-4,"o":1.5e-4,"ol":1e-9,"oh":5e-4},
{"x":6.5375,"obs":1e-9,"g":1.4e-4,"gl":1e-9,"gh":5e-4,"o":3.7e-4,"ol":1e-9,"oh":8.5e-4},
{"x":6.5625,"obs":1e-9,"g":2.8e-4,"gl":1e-9,"gh":7e-4,"o":2.0e-4,"ol":1e-9,"oh":5.5e-4},
{"x":6.5875,"obs":7.4e-5,"g":3.7e-4,"gl":1e-9,"gh":8.5e-4,"o":1e-9,"ol":1e-9,"oh":2.5e-4},
{"x":6.6125,"obs":1e-9,"g":3.7e-4,"gl":1e-9,"gh":8.5e-4,"o":1.5e-4,"ol":1e-9,"oh":5e-4},
{"x":6.6375,"obs":1e-9,"g":7.4e-5,"gl":1e-9,"gh":4e-4,"o":1.5e-4,"ol":1e-9,"oh":5e-4},
{"x":6.6625,"obs":1e-9,"g":1.0e-4,"gl":1e-9,"gh":4.5e-4,"o":1e-9,"ol":1e-9,"oh":2.5e-4},
{"x":6.6875,"obs":1e-9,"g":1.35e-4,"gl":1e-9,"gh":5e-4,"o":1.5e-4,"ol":1e-9,"oh":5e-4},
{"x":6.7125,"obs":1e-9,"g":1.0e-4,"gl":1e-9,"gh":4.5e-4,"o":7.4e-5,"ol":1e-9,"oh":3.5e-4},
{"x":6.7375,"obs":7.4e-5,"g":7.4e-5,"gl":1e-9,"gh":4e-4,"o":7.4e-5,"ol":1e-9,"oh":3.5e-4},
{"x":6.7625,"obs":1e-9,"g":7.4e-5,"gl":1e-9,"gh":4e-4,"o":1e-9,"ol":1e-9,"oh":2.5e-4},
{"x":6.7875,"obs":1e-9,"g":1.5e-4,"gl":1e-9,"gh":5e-4,"o":1.5e-4,"ol":1e-9,"oh":5e-4},
{"x":6.8125,"obs":1e-9,"g":2.0e-4,"gl":1e-9,"gh":6e-4,"o":2.2e-4,"ol":1e-9,"oh":6e-4},
{"x":6.8375,"obs":1e-9,"g":2.9e-4,"gl":1e-9,"gh":7.5e-4,"o":1.5e-4,"ol":1e-9,"oh":5e-4},
{"x":6.8625,"obs":1e-9,"g":1e-9,"gl":1e-9,"gh":3.5e-4,"o":7.4e-5,"ol":1e-9,"oh":3.5e-4},
{"x":6.8875,"obs":1e-9,"g":7.4e-5,"gl":1e-9,"gh":4e-4,"o":1e-9,"ol":1e-9,"oh":2.5e-4},
{"x":6.9125,"obs":1e-9,"g":7.4e-5,"gl":1e-9,"gh":4e-4,"o":1.5e-4,"ol":1e-9,"oh":5e-4},
{"x":6.9375,"obs":1e-9,"g":1.6e-4,"gl":1e-9,"gh":5.5e-4,"o":1e-9,"ol":1e-9,"oh":2.5e-4},
{"x":6.9625,"obs":1e-9,"g":2.2e-4,"gl":1e-9,"gh":6.5e-4,"o":7.4e-5,"ol":1e-9,"oh":3.5e-4},
{"x":6.9875,"obs":7.4e-5,"g":1.4e-4,"gl":1e-9,"gh":5e-4,"o":7.4e-5,"ol":1e-9,"oh":3.5e-4}
]},
"encoding":{"x":{"field":"x","type":"quantitative","scale":{"domain":[-0.3337,7.319],"nice":false,"zero":false},"axis":{"values":[0,1,2,3,4,5,6,7],"format":"d","title":"Precipitation (mm/3h)","grid":false,"labelFlush":false,"labelOverlap":false,"tickSize":7,"tickWidth":1.6,"labelPadding":5,"titlePadding":10}}},
"layer":[
{"mark":{"type":"area","fill":"#4daf4a","fillOpacity":0.2,"stroke":"#4daf4a","strokeOpacity":0.2,"strokeWidth":1,"clip":true},
 "encoding":{"y":{"field":"gl","type":"quantitative","scale":{"type":"log","domain":[1e-5,76.7],"nice":false},
   "axis":{"orient":"left","values":[2e-5,3e-5,4e-5,5e-5,6e-5,7e-5,8e-5,9e-5,2e-4,3e-4,4e-4,5e-4,6e-4,7e-4,8e-4,9e-4,0.002,0.003,0.004,0.005,0.006,0.007,0.008,0.009,0.02,0.03,0.04,0.05,0.06,0.07,0.08,0.09,0.2,0.3,0.4,0.5,0.6,0.7,0.8,0.9,2,3,4,5,6,7,8,9,20,30,40,50,60,70],"labels":false,"title":null,"domain":false,"grid":false,"tickSize":4,"tickWidth":1.2,"tickColor":"#000000"}},
  "y2":{"field":"gh"}}},
{"mark":{"type":"area","fill":"#ff7f00","fillOpacity":0.2,"stroke":"#ff7f00","strokeOpacity":0.2,"strokeWidth":1,"clip":true},
 "encoding":{"y":{"field":"ol","type":"quantitative","scale":{"type":"log","domain":[1e-5,76.7],"nice":false},"axis":null},"y2":{"field":"oh"}}},
{"mark":{"type":"line","strokeWidth":3,"clip":true},
 "encoding":{"y":{"field":"obs","type":"quantitative","scale":{"type":"log","domain":[1e-5,76.7],"nice":false},
   "axis":{"orient":"left","values":[1e-5,1e-4,0.001,0.01,0.1,1,10],"labelExpr":"datum.value >= 5 ? '10¹' : datum.value >= 0.5 ? '10⁰' : datum.value >= 0.05 ? '10⁻¹' : datum.value >= 0.005 ? '10⁻²' : datum.value >= 0.0005 ? '10⁻³' : datum.value >= 0.00005 ? '10⁻⁴' : '10⁻⁵'","title":"Probability (%)","grid":false,"labelFlush":false,"labelOverlap":false,"tickSize":7,"tickWidth":1.6,"labelPadding":5,"titlePadding":18}},
  "color":{"datum":"OBS","type":"nominal","scale":{"domain":["OBS","13 km","6.5 km"],"range":["#000000","#4daf4a","#ff7f00"]},"legend":{"title":null}}}},
{"mark":{"type":"line","strokeWidth":3,"clip":true},
 "encoding":{"y":{"field":"g","type":"quantitative","scale":{"type":"log","domain":[1e-5,76.7],"nice":false},"axis":null},
  "color":{"datum":"13 km","type":"nominal"}}},
{"mark":{"type":"line","strokeWidth":3,"clip":true},
 "encoding":{"y":{"field":"o","type":"quantitative","scale":{"type":"log","domain":[1e-5,76.7],"nice":false},"axis":null},
  "color":{"datum":"6.5 km","type":"nominal"}}}
],
"resolve":{"axis":{"y":"independent"}},
"config":{
 "view":{"stroke":"#000000","strokeWidth":1.6},
 "font":"DejaVu Sans",
 "axis":{"labelFont":"DejaVu Sans","labelFontSize":20,"labelColor":"#000000","titleFont":"DejaVu Sans","titleFontSize":20,"titleFontWeight":"normal","titleColor":"#000000","tickColor":"#000000","domainColor":"#000000","domainWidth":1.6},
 "legend":{"orient":"none","legendX":919,"legendY":10,"labelFont":"DejaVu Sans","labelFontSize":20,"labelColor":"#000000","symbolType":"stroke","symbolSize":2000,"symbolStrokeWidth":3,"clipHeight":20,"rowPadding":11.5,"padding":7,"labelOffset":16,"strokeColor":"#cccccc","fillColor":"#ffffff","cornerRadius":4}
}
}
